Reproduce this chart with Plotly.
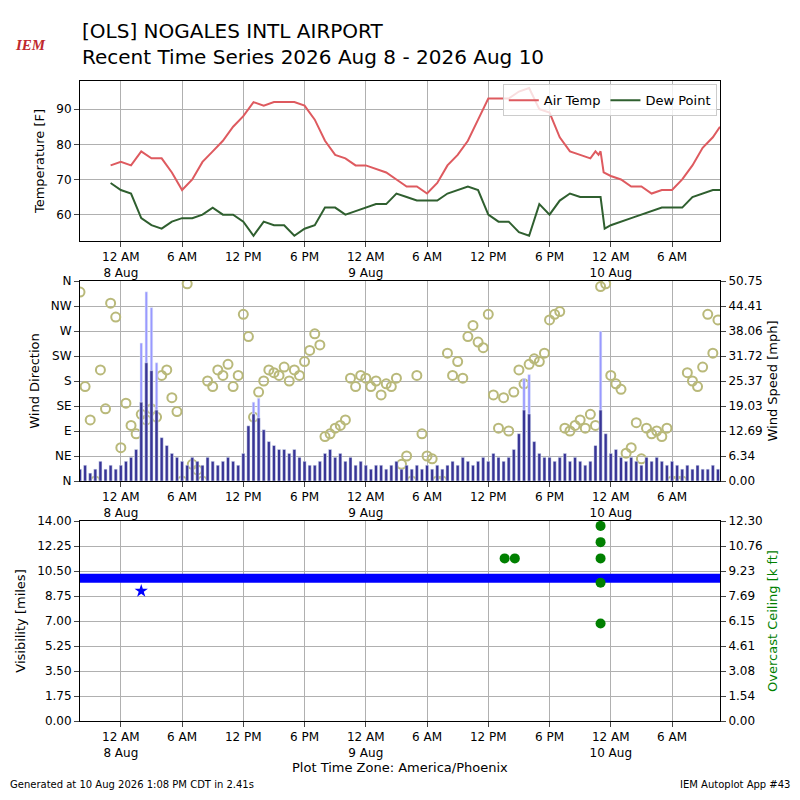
import plotly.graph_objects as go
import pandas as pd

base = pd.Timestamp("2026-08-08 00:00")
def T(hs): return [base + pd.Timedelta(hours=h) for h in hs]

temp_hours = [-1,0,1,2,3,4,5,6,7,8,9,10,11,12,13,14,15,16,17,18,19,20,21,22,23,24,25,26,27,28,29,30,31,32,33,34,35,36,37,38,39,40,41,42,43,44,45,46,46.5,46.8,47,47.3,48,49,50,51,52,53,54,55,56,57,58,58.7]
air_temp = [74,75,74,78,76,76,72,67,70,75,78,81,85,88,92,91,92,92,92,91,87,81,77,76,74,74,73,72,70,68,68,66,69,74,77,81,87,93,93,93,95,96,90,89,82,78,77,76,78,77,78,72,71,70,68,68,66,67,67,70,74,79,82,85]
dew_hours = [-1,0,1,2,3,4,5,6,7,8,9,10,11,12,13,14,15,16,17,18,19,20,21,22,23,24,25,26,27,28,29,30,31,32,33,34,35,36,37,38,39,40,41,42,43,44,45,46,47,47.4,48,50,52,53,54,55,56,57,58,58.7]
dew_point = [69,67,66,59,57,56,58,59,59,60,62,60,60,58,54,58,57,57,54,56,57,62,62,60,61,62,63,63,66,65,64,64,64,66,67,68,67,60,58,58,55,54,63,60,64,66,65,65,65,56,57,59,61,62,62,62,65,66,67,67]

wind_hours = [-4 + 0.5*i for i in range(126)]
wind_dir = [340,170,110,0,200,130,320,295,60,140,100,85,120,110,130,115,190,200,150,125,0,355,30,20,0,180,170,200,190,210,170,190,300,260,115,160,180,200,195,190,205,180,200,190,215,235,265,245,80,85,95,100,110,185,170,190,185,170,180,155,175,170,185,30,45,0,190,85,45,40,0,0,230,190,215,185,260,280,250,240,300,155,95,150,90,160,200,175,210,220,215,230,290,300,305,95,90,100,110,95,120,100,350,355,190,175,165,50,60,105,40,95,85,90,80,95,0,0,0,195,180,170,205,300,230,290]
wind_speed = [3,4,2,3,5,3,4,3, 4,5,6,8, 20,30,28,18, 11,9,7,6, 5,4,6,5,4,6,5,4,5,6,5,4, 7,14,17,16, 13,10,9,8,8,7,8,6, 5,4,4,5,
              7,8,6,7,5,6,4,5,4,3,4,4,3,4,5,3,4,3,4,3,4,3,4,3, 4,5,4,6,5,4,5,6,5,7,6,5,6,8, 12,18,17,10, 7,6,6,5,6,7,5,6,5,4,5, 9,18,12, 7,8,6,5,
              6,5,4,6,5,6,5,4,5,4,3,4,3,4,3,3,4,3]
gust_hours = [2,2.5,3,3.5,13,13.5,39.5,40,47]
gust_speed = [35,48,44,30,20,21,26,27,38]

vis_hours = [-4,2,2.01,58.7]
visibility = [10,10,10,10]
vis_low_hours = [2]
vis_low = [9.1]
ceil_hours = [37.6,38.6,47,47,47,47,47]
ceiling = [10.0,10.0,12.0,11.0,10.0,8.5,6.0]

tick_hours = [0,6,12,18,24,30,36,42,48,54]
tick_text = ["12 AM<br>8 Aug","6 AM","12 PM","6 PM","12 AM<br>9 Aug","6 AM","12 PM","6 PM","12 AM<br>10 Aug","6 AM"]
dir_ticks = ["N","NE","E","SE","S","SW","W","NW","N"]

fig = go.Figure()
fig.add_trace(go.Scatter(x=T(temp_hours), y=air_temp, mode="lines", name="Air Temp", line=dict(color="#de5a5f", width=2), xaxis="x", yaxis="y"))
fig.add_trace(go.Scatter(x=T(dew_hours), y=dew_point, mode="lines", name="Dew Point", line=dict(color="#2f5f2f", width=2), xaxis="x", yaxis="y"))
fig.add_trace(go.Bar(x=T(gust_hours), y=gust_speed, marker_color="#9999ff", width=0.25*3600e3, showlegend=False, xaxis="x2", yaxis="y4"))
fig.add_trace(go.Bar(x=T(wind_hours), y=wind_speed, marker_color="#383596", width=0.3*3600e3, showlegend=False, xaxis="x2", yaxis="y4"))
fig.add_trace(go.Scatter(x=T(wind_hours), y=wind_dir, mode="markers", showlegend=False,
                         marker=dict(symbol="circle-open", size=9, color="#b9b97a", line=dict(width=2)), xaxis="x2", yaxis="y3"))
fig.add_trace(go.Scatter(x=T(vis_hours), y=visibility, mode="lines", showlegend=False, line=dict(color="blue", width=9), xaxis="x3", yaxis="y5"))
fig.add_trace(go.Scatter(x=T(vis_low_hours), y=vis_low, mode="markers", showlegend=False, marker=dict(symbol="star", size=10, color="blue"), xaxis="x3", yaxis="y5"))
fig.add_trace(go.Scatter(x=T(ceil_hours), y=ceiling, mode="markers", showlegend=False, marker=dict(size=10, color="green"), xaxis="x3", yaxis="y6"))

rng = [base + pd.Timedelta(hours=-4), base + pd.Timedelta(hours=58.7)]
xcommon = dict(range=rng, tickvals=T(tick_hours), ticktext=tick_text, showgrid=True, gridcolor="#b0b0b0", automargin=False,
               showline=True, linecolor="black", mirror=True, ticks="outside", tickfont=dict(size=12, color="black"))
ycommon = dict(showgrid=True, gridcolor="#b0b0b0", showline=True, linecolor="black", mirror=True, ticks="outside",
               tickfont=dict(size=12, color="black"), zeroline=False, automargin=False)
fig.update_layout(
    width=800, height=800, margin=dict(l=72, r=88, t=73, b=87),
    plot_bgcolor="white", paper_bgcolor="white", barmode="overlay",
    font=dict(family="DejaVu Sans", color="black"),
    xaxis=dict(xcommon, domain=[0,1], anchor="y"),
    yaxis=dict(ycommon, domain=[0.75,1], range=[52.5,98], dtick=10, title=dict(text="Temperature [F]", font=dict(size=13), standoff=8)),
    xaxis2=dict(xcommon, domain=[0,1], anchor="y3"),
    yaxis3=dict(ycommon, domain=[0.375,0.6875], range=[0,360], tickvals=[0,45,90,135,180,225,270,315,360], ticktext=dir_ticks,
                title=dict(text="Wind Direction", font=dict(size=13), standoff=8)),
    yaxis4=dict(ycommon, overlaying="y3", side="right", range=[0,50.75], tickvals=[6.34375*i for i in range(9)],
                ticktext=["0.00","6.34","12.69","19.03","25.37","31.72","38.06","44.41","50.75"], showgrid=False,
                title=dict(text="Wind Speed [mph]", font=dict(size=13), standoff=6)),
    xaxis3=dict(xcommon, domain=[0,1], anchor="y5"),
    yaxis5=dict(ycommon, domain=[0,0.3125], range=[0,14], tickvals=[1.75*i for i in range(9)], tickformat=".2f",
                title=dict(text="Visibility [miles]", font=dict(size=13), standoff=8)),
    yaxis6=dict(ycommon, overlaying="y5", side="right", range=[0,12.3], tickvals=[12.3/8*i for i in range(9)],
                ticktext=["0.00","1.54","3.08","4.61","6.15","7.69","9.23","10.76","12.30"], showgrid=False,
                title=dict(text="Overcast Ceiling [k ft]", font=dict(size=13, color="green"), standoff=6)),
    legend=dict(x=0.995, y=0.995, xanchor="right", yanchor="top", orientation="h", bgcolor="rgba(255,255,255,0.8)",
                bordercolor="#cccccc", borderwidth=1, font=dict(size=13)),
    annotations=[
        dict(text="[OLS] NOGALES INTL AIRPORT<br>Recent Time Series 2026 Aug 8 - 2026 Aug 10", xref="paper", yref="paper",
             x=0, y=1.015, xanchor="left", yanchor="bottom", showarrow=False, align="left", font=dict(size=20)),
        dict(text="<i><b>IEM</b></i>", xref="paper", yref="paper", x=-0.105, y=1.04, xanchor="left", yanchor="bottom", showarrow=False,
             font=dict(size=15, color="#c0282d", family="Liberation Serif")),
        dict(text="Plot Time Zone: America/Phoenix", xref="paper", yref="paper", x=0.5, y=-0.088, showarrow=False, font=dict(size=13)),
        dict(text="Generated at 10 Aug 2026 1:08 PM CDT in 2.41s", xref="paper", yref="paper", x=-0.1125, y=-0.111,
             xanchor="left", showarrow=False, font=dict(size=10)),
        dict(text="IEM Autoplot App #43", xref="paper", yref="paper", x=1.1125, y=-0.111, xanchor="right", showarrow=False, font=dict(size=10)),
    ],
)
fig.write_html("out.html")
